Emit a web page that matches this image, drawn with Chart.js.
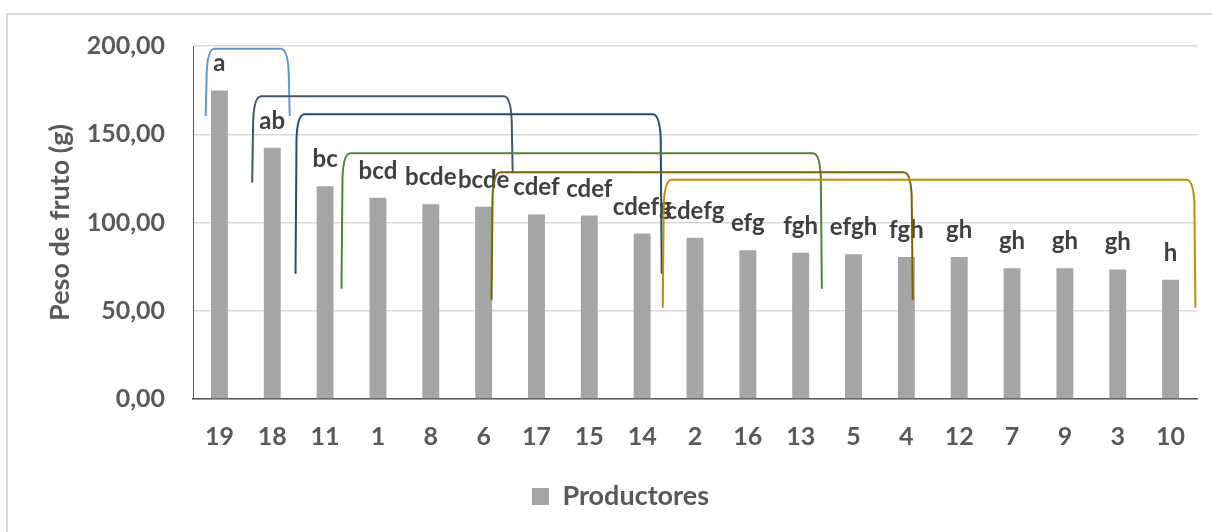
<!DOCTYPE html>
<html>
<head>
<meta charset="utf-8">
<script src="https://cdn.jsdelivr.net/npm/chart.js@4/dist/chart.umd.min.js"></script>
<style>
  html, body { margin: 0; padding: 0; background: #fff; overflow: hidden; }
  #marco { position: absolute; left: 6px; top: 13px; width: 1300px; height: 600px; border: 2px solid #d9d9d9; box-sizing: border-box; }
  #caja { position: absolute; left: 0; top: 0; width: 1212px; height: 532px; }
</style>
</head>
<body>
<div id="marco"></div>
<div id="caja"><canvas id="grafico" width="1212" height="532"></canvas></div>
<script>
// productores ordenados por peso
var productores = ['19','18','11','1','8','6','17','15','14','2','16','13','5','4','12','7','9','3','10'];
var peso = [174.8,142.4,120.6,114.0,110.4,108.9,104.6,103.9,93.7,91.4,84.3,82.8,82.0,80.5,80.5,74.1,74.1,73.4,67.5];
var letras = ['a','ab','bc','bcd','bcde','bcde','cdef','cdef','cdefg','cdefg','efg','fgh','efgh','fgh','gh','gh','gh','gh','h'];
var ticksY = [0, 50, 100, 150, 200];

// corchetes de grupos (posicion en categorias y valores del eje y)
var corcheteDesde = [-0.26, 0.62, 1.44, 2.31, 5.15, 8.39];
var corcheteHasta = [1.33, 5.55, 8.37, 11.40, 13.12, 18.47];
var corcheteTope = [198.5, 171.5, 161.4, 139.3, 128.5, 124.2];
var corcheteBaseIzq = [160.3, 122.7, 70.9, 62.5, 56.1, 51.7];
var corcheteBaseDer = [160.3, 127.9, 70.9, 62.5, 56.1, 51.7];
var coloresCorchete = ['#5B9BD5','#44546A','#1F4E79','#548235','#7F6000','#BF9000'];

var fuente = 'Lato, "Open Sans", sans-serif';

var etiquetas = {
  id: 'etiquetas',
  afterDatasetsDraw: function(chart) {
    var ctx = chart.ctx;
    var meta = chart.getDatasetMeta(0);
    ctx.save();
    ctx.font = 'bold 24px ' + fuente;
    ctx.fillStyle = '#404040';
    ctx.textAlign = 'center';
    ctx.textBaseline = 'alphabetic';
    for (var i = 0; i < meta.data.length; i++) {
      var b = meta.data[i];
      ctx.fillText(letras[i], b.x, b.y - 19);
    }
    ctx.restore();
  }
};

var corchetes = {
  id: 'corchetes',
  afterDatasetsDraw: function(chart) {
    var ctx = chart.ctx;
    var x = chart.scales.x, y = chart.scales.y;
    ctx.save();
    ctx.lineWidth = 2;
    for (var i = 0; i < corcheteDesde.length; i++) {
      var l = x.getPixelForValue(corcheteDesde[i]);
      var r = x.getPixelForValue(corcheteHasta[i]);
      var t = y.getPixelForValue(corcheteTope[i]);
      var bl = y.getPixelForValue(corcheteBaseIzq[i]);
      var br = y.getPixelForValue(corcheteBaseDer[i]);
      ctx.strokeStyle = coloresCorchete[i];
      ctx.beginPath();
      ctx.moveTo(l, bl);
      ctx.lineTo(l + 1, t + 24);
      ctx.quadraticCurveTo(l + 2, t, l + 9, t);
      ctx.lineTo(r - 9, t);
      ctx.quadraticCurveTo(r - 2, t, r - 1, t + 24);
      ctx.lineTo(r, br);
      ctx.stroke();
    }
    ctx.restore();
  }
};

// la leyenda va algo a la derecha del centro
var moverLeyenda = {
  id: 'moverLeyenda',
  afterLayout: function(chart) {
    chart.legend.left += 22;
    chart.legend.right += 22;
  }
};

var ctx = document.getElementById('grafico');
var grafico = new Chart(ctx, {
  type: 'bar',
  data: {
    labels: productores,
    datasets: [{
      label: 'Productores',
      data: peso,
      backgroundColor: '#A5A5A5',
      categoryPercentage: 1,
      barPercentage: 0.32
    }]
  },
  options: {
    responsive: false,
    animation: false,
    devicePixelRatio: 1,
    layout: { padding: { top: 46, left: 0, right: 15, bottom: 12 } },
    plugins: {
      tooltip: { enabled: false },
      legend: {
        position: 'bottom',
        labels: {
          boxWidth: 17,
          boxHeight: 17,
          padding: 10,
          color: '#595959',
          font: { family: fuente, size: 27, weight: 'bold' }
        }
      }
    },
    scales: {
      x: {
        grid: { display: false, drawTicks: false },
        border: { display: true, color: '#595959', width: 1.5 },
        ticks: {
          color: '#595959',
          padding: 23,
          maxRotation: 0,
          font: { family: fuente, size: 25, weight: 'bold' }
        },
        afterFit: function(s) { s.height = 74; }
      },
      y: {
        min: 0,
        max: 200,
        afterBuildTicks: function(s) { s.ticks = ticksY.map(function(v) { return { value: v }; }); },
        grid: { color: '#D9D9D9', lineWidth: 1.5, drawTicks: false },
        border: { display: true, color: '#595959', width: 1 },
        ticks: {
          color: '#595959',
          padding: 28,
          font: { family: fuente, size: 25, weight: 'bold' },
          callback: function(v) { return v.toFixed(2).replace('.', ','); }
        },
        title: {
          display: true,
          text: 'Peso de fruto (g)',
          color: '#595959',
          padding: { top: 44, bottom: 0 },
          font: { family: fuente, size: 27, weight: 'bold' }
        },
        afterFit: function(s) { s.width = 193; }
      }
    }
  },
  plugins: [etiquetas, corchetes, moverLeyenda]
});
</script>
</body>
</html>
